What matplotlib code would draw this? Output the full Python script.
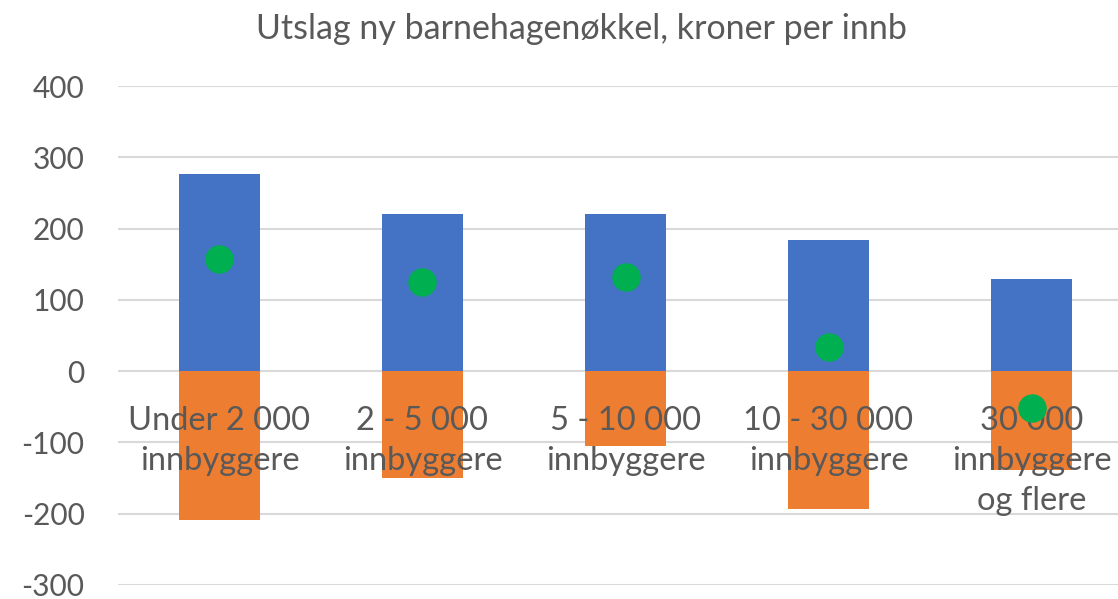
import matplotlib
matplotlib.use("Agg")
import matplotlib.pyplot as plt

# kategorier og verdier (lest av bildet)
kategorier = ["Under 2 000\ninnbyggere", "2 - 5 000\ninnbyggere", "5 - 10 000\ninnbyggere",
              "10 - 30 000\ninnbyggere", "30 000\ninnbyggere\nog flere"]
positive = [276, 220, 220, 184, 129]
negative = [-209, -150, -105, -194, -139]
netto = [157, 125, 132, 34, -52]

plt.rcParams['font.family'] = ['Lato', 'DejaVu Sans']
plt.rcParams['axes.unicode_minus'] = False
grå = "#595959"

fig = plt.figure(figsize=(11.18, 5.99), dpi=100)
ax = fig.add_axes([0.1055, 0.0234, 0.908, 0.833])

x = range(len(kategorier))
ax.bar(x, positive, width=0.4, color="#4472C4", zorder=2)
ax.bar(x, negative, width=0.4, color="#ED7D31", zorder=2)
ax.scatter(x, netto, s=380, color="#00B050", zorder=5)

# kategorinavn plassert ved nullinjen, oppå søylene
for i, k in enumerate(kategorier):
    ax.text(i, -49, k, ha="center", va="top", fontsize=23.5, color=grå,
            linespacing=1.42, zorder=4)

ax.set_xlim(-0.5, 4.5)
ax.set_ylim(-300, 400)
ax.set_yticks(range(-300, 401, 100))
ax.set_xticks([])
ax.tick_params(axis="y", length=0, labelsize=21.5, labelcolor=grå, pad=24)
ax.grid(axis="y", color="#D9D9D9", linewidth=1.5, zorder=0)
ax.set_axisbelow(True)
for s in ax.spines.values():
    s.set_visible(False)

fig.text(0.52, 0.952, "Utslag ny barnehagenøkkel, kroner per innb", ha="center", va="center",
         fontsize=24.5, color=grå)

fig.savefig("out.png", dpi=100)
